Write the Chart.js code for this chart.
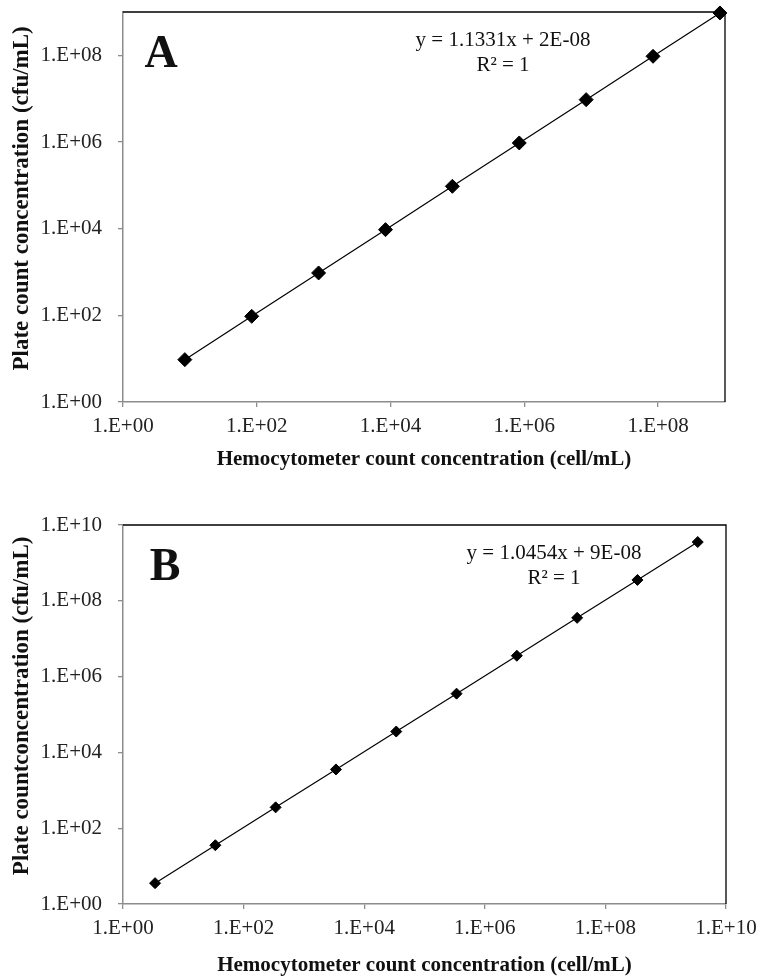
<!DOCTYPE html>
<html>
<head>
<meta charset="utf-8">
<script src="https://cdn.jsdelivr.net/npm/chart.js@4.4.0/dist/chart.umd.min.js"></script>
<style>
    html, body { margin: 0; padding: 0; background: #fff; }
    #wrap { position: relative; width: 770px; height: 976px; overflow: hidden; }
    #boxA { position: absolute; left: 0; top: 0; width: 770px; height: 480px; }
    #boxB { position: absolute; left: 0; top: 480px; width: 770px; height: 496px; }
</style>
</head>
<body>
<div id="wrap">
    <div id="boxA"><canvas id="chartA"></canvas></div>
    <div id="boxB"><canvas id="chartB"></canvas></div>
</div>
<script>
// panel A
const hemoA = [8.4, 84, 840, 8.4e3, 8.4e4, 8.4e5, 8.4e6, 8.4e7, 8.4e8];
const plateA = [9.5, 95, 950, 9.5e3, 9.5e4, 9.5e5, 9.5e6, 9.5e7, 9.5e8];
const ticksA = [1, 1e2, 1e4, 1e6, 1e8];
const tickLabelsA = ['1.E+00', '1.E+02', '1.E+04', '1.E+06', '1.E+08'];

// panel B
const hemoB = [3.4, 34, 340, 3.4e3, 3.4e4, 3.4e5, 3.4e6, 3.4e7, 3.4e8, 3.4e9];
const plateB = [3.55, 35.5, 355, 3.55e3, 3.55e4, 3.55e5, 3.55e6, 3.55e7, 3.55e8, 3.55e9];
const ticksB = [1, 1e2, 1e4, 1e6, 1e8, 1e10];
const tickLabelsB = ['1.E+00', '1.E+02', '1.E+04', '1.E+06', '1.E+08', '1.E+10'];

Chart.defaults.font.family = '"Liberation Serif", "Times New Roman", serif';
Chart.defaults.color = '#222';

const framePlugin = {
    id: 'frame',
    beforeDatasetsDraw(chart) {
        const { ctx, chartArea: a } = chart;
        ctx.save();
        ctx.strokeStyle = '#000';
        ctx.lineWidth = 1.3;
        ctx.beginPath();
        ctx.moveTo(a.left, a.top);
        ctx.lineTo(a.right, a.top);
        ctx.lineTo(a.right, a.bottom);
        ctx.stroke();
        ctx.restore();
    },
    afterDraw(chart, args, o) {
        const { ctx, chartArea: a } = chart;
        ctx.save();
        ctx.fillStyle = '#111';
        ctx.textAlign = 'center';
        ctx.textBaseline = 'middle';
        ctx.font = 'bold 46px "Liberation Serif"';
        ctx.fillText(o.letter, a.left + o.letterX, a.top + 43);
        ctx.font = '21px "Liberation Serif"';
        ctx.fillText(o.equation, a.left + o.eqX, a.top + 28);
        ctx.fillText('R\u00b2 = 1', a.left + o.eqX, a.top + 53.5);
        ctx.restore();
    }
};

function makeChart(id, xs, ys, tickVals, tickLabels, max, opts) {
    const ctx = document.getElementById(id).getContext('2d');
    const labelFor = v => tickLabels[tickVals.indexOf(v)] || '';
    const setTicks = scale => { scale.ticks = tickVals.map(v => ({ value: v })); };
    const axisGrid = { display: true, drawOnChartArea: false, drawTicks: true, tickLength: 5, color: '#8c8c8c', lineWidth: 1.3 };
    const axisBorder = { display: true, color: '#8c8c8c', width: 1.5 };

    return new Chart(ctx, {
        type: 'scatter',
        data: {
            datasets: [{
                data: xs.map((x, i) => ({ x: x, y: ys[i] })),
                showLine: true,
                borderColor: '#000',
                borderWidth: 1.2,
                pointStyle: 'rectRot',
                pointRadius: opts.radius,
                pointHoverRadius: opts.radius,
                pointBackgroundColor: '#000',
                pointBorderColor: '#000',
                pointBorderWidth: 1,
                clip: false
            }]
        },
        options: {
            responsive: true,
            maintainAspectRatio: false,
            animation: false,
            layout: { padding: { left: 0, top: opts.top, right: opts.right, bottom: 0 } },
            plugins: {
                legend: { display: false },
                tooltip: { enabled: false },
                frame: opts.frame
            },
            scales: {
                x: {
                    type: 'logarithmic',
                    min: 1,
                    max: max,
                    afterBuildTicks: setTicks,
                    afterFit: s => { s.height = opts.xHeight; s.paddingLeft = 0; s.paddingRight = 0; },
                    grid: axisGrid,
                    border: axisBorder,
                    ticks: { padding: 7, maxRotation: 0, autoSkip: false, font: { size: 21 }, callback: labelFor },
                    title: {
                        display: true,
                        text: 'Hemocytometer count concentration (cell/mL)',
                        color: '#111',
                        font: { size: 21, weight: 'bold', lineHeight: 1 },
                        padding: { top: 0, bottom: opts.xTitlePad }
                    }
                },
                y: {
                    type: 'logarithmic',
                    min: 1,
                    max: opts.yMax,
                    afterBuildTicks: scale => { scale.ticks = opts.yTicks.map(v => ({ value: v })); },
                    afterFit: s => { s.width = 123; s.paddingTop = 0; s.paddingBottom = 0; },
                    grid: axisGrid,
                    border: axisBorder,
                    ticks: { padding: 16, autoSkip: false, font: { size: 21 }, callback: labelFor },
                    title: {
                        display: true,
                        text: opts.yTitle,
                        color: '#111',
                        font: { size: 23, weight: 'bold', lineHeight: 1 },
                        padding: { top: 11, bottom: 0 }
                    }
                }
            }
        },
        plugins: [framePlugin]
    });
}

makeChart('chartA', hemoA, plateA, ticksA, tickLabelsA, 1e9, {
    radius: 7, top: 12, right: 45, xHeight: 78, xTitlePad: 9.5, yMax: 1e9, yTicks: ticksA,
    yTitle: '   Plate count concentration (cfu/mL)',
    frame: { letter: 'A', letterX: 38, equation: 'y = 1.1331x + 2E-08', eqX: 380 }
});

makeChart('chartB', hemoB, plateB, ticksB, tickLabelsB, 1e10, {
    radius: 5.5, top: 45, right: 44, xHeight: 72, xTitlePad: 0, yMax: 1e10, yTicks: ticksB,
    yTitle: '   Plate countconcentration (cfu/mL)',
    frame: { letter: 'B', letterX: 42, equation: 'y = 1.0454x + 9E-08', eqX: 431 }
});
</script>
</body>
</html>
